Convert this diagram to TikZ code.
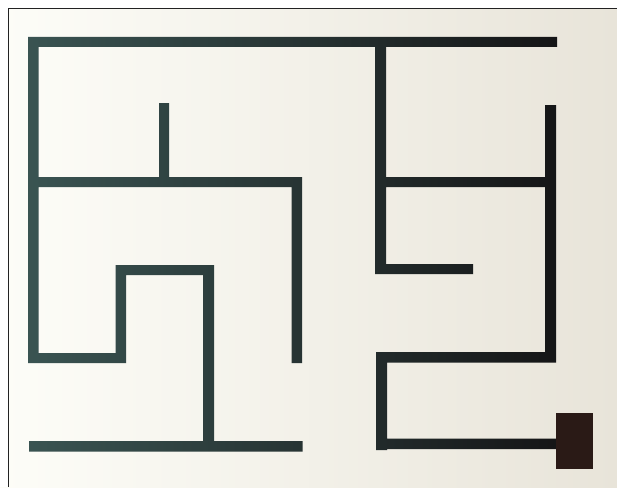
\documentclass[tikz,border=0pt]{standalone}
\definecolor{bgl}{HTML}{FDFDF8}
\definecolor{bgr}{HTML}{E8E4D9}
\definecolor{wl}{HTML}{3A5452}
\definecolor{wm}{HTML}{212B2A}
\definecolor{wr}{HTML}{151516}
\definecolor{boxc}{HTML}{2A1A16}
\definecolor{framec}{HTML}{222222}
\begin{document}
\begin{tikzpicture}[x=1pt,y=-1pt]
\useasboundingbox (0,0) rectangle (617,487);
\shade[left color=bgl,right color=bgr] (0,0) rectangle (617,487);
\fill[white] (0,0) rectangle (8,487);
\fill[white] (0,0) rectangle (617,8);
\draw[framec,line width=1.2pt] (8.5,487) -- (8.5,8.5) -- (617,8.5);
\begin{scope}
\clip
  (29,37) rectangle (557,47)
  (28,37) rectangle (38.5,363)
  (36,177) rectangle (302,187)
  (159,103) rectangle (169,180)
  (291.5,177) rectangle (302,363)
  (28,353) rectangle (126,363)
  (115.5,265) rectangle (126,363)
  (115.5,265) rectangle (214,275)
  (203,265) rectangle (214,446)
  (29,441) rectangle (302.5,451.5)
  (375,42) rectangle (386,274)
  (377,264) rectangle (473,274)
  (384,177) rectangle (548,187)
  (545,105) rectangle (556,361)
  (376,352) rectangle (556,362.5)
  (376,352) rectangle (387,450)
  (376,438.5) rectangle (557,449);
\shade[left color=wl,middle color=wm,right color=wr] (25,30) rectangle (560,460);
\end{scope}
\fill[boxc] (556,413) rectangle (593,468.5);
\end{tikzpicture}
\end{document}
